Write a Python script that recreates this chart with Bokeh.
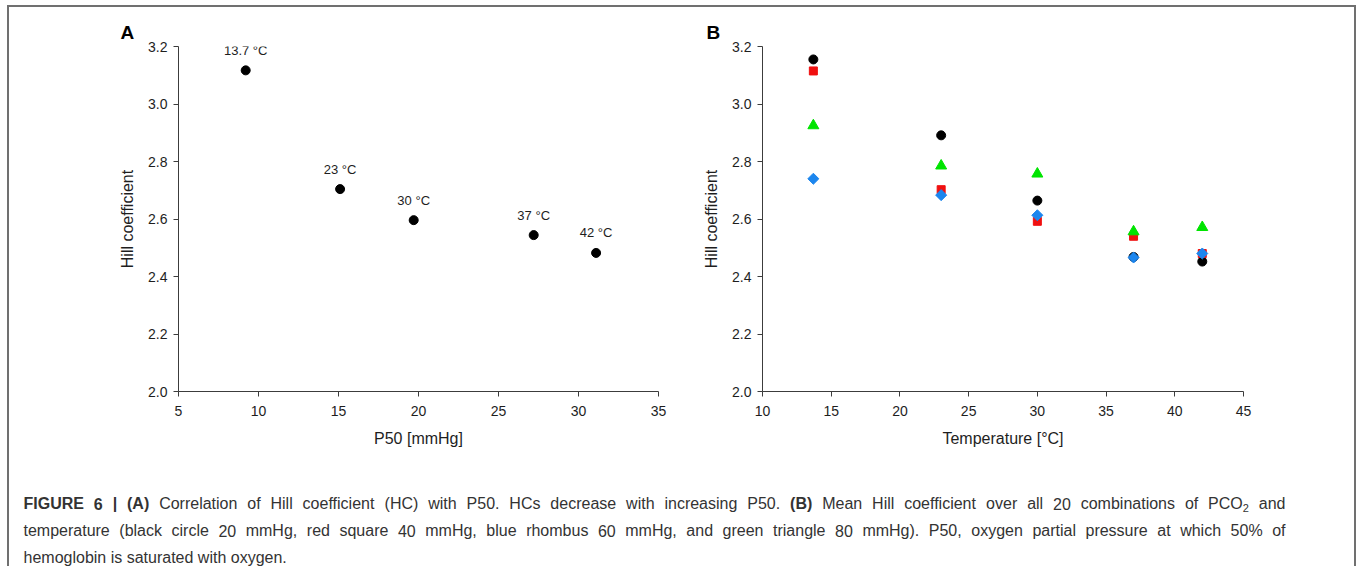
from bokeh.plotting import figure
from bokeh.models import Range1d, FixedTicker, LabelSet, ColumnDataSource, Title, Spacer
from bokeh.layouts import column, row
from bokeh.embed import file_html
from bokeh.resources import INLINE
from bokeh.core.properties import value
import math

# ---------------- data ----------------
# Panel A: Hill coefficient vs P50
p50_mmhg = [9.2, 15.1, 19.7, 27.2, 31.1]
hill_a = [3.117, 2.704, 2.596, 2.544, 2.482]
temp_labels = ["13.7 °C", "23 °C", "30 °C", "37 °C", "42 °C"]

# Panel B: Hill coefficient vs temperature, per PCO2
temperature_c = [13.7, 23, 30, 37, 42]
hill_pco2_20 = [3.155, 2.891, 2.664, 2.468, 2.452]   # black circle
hill_pco2_40 = [3.115, 2.702, 2.592, 2.540, 2.480]   # red square
hill_pco2_60 = [2.740, 2.683, 2.613, 2.466, 2.480]   # blue rhombus
hill_pco2_80 = [2.925, 2.785, 2.757, 2.556, 2.571]   # green triangle

a_x_ticks = [5, 10, 15, 20, 25, 30, 35]
b_x_ticks = [10, 15, 20, 25, 30, 35, 40, 45]
y_ticks = [2.0, 2.2, 2.4, 2.6, 2.8, 3.0, 3.2]
y_tick_labels = ["2.0", "2.2", "2.4", "2.6", "2.8", "3.0", "3.2"]

# caption: each word is a list of (text, kind) parts; kind: normal / bold / sub
caption_line1 = ([[(w, "bold")] for w in "FIGURE 6 | (A)".split()]
                 + [[(w, "normal")] for w in "Correlation of Hill coefficient (HC) with P50. HCs decrease with increasing P50.".split()]
                 + [[("(B)", "bold")]]
                 + [[(w, "normal")] for w in "Mean Hill coefficient over all 20 combinations of".split()]
                 + [[("PCO", "normal"), ("2", "sub")], [("and", "normal")]])
caption_line2 = "temperature (black circle 20 mmHg, red square 40 mmHg, blue rhombus 60 mmHg, and green triangle 80 mmHg). P50, oxygen partial pressure at which 50% of"
caption_line3 = "hemoglobin is saturated with oxygen."

FONT = "Liberation Sans"
AXIS_COL = "#3c3c3c"
TEXT_COL = "#1e1e1e"

# ---------------- helpers ----------------
def style(p):
    p.toolbar_location = None
    p.outline_line_color = None
    p.xgrid.visible = False
    p.ygrid.visible = False
    p.background_fill_color = "white"
    p.border_fill_color = "white"
    for ax in (p.xaxis[0], p.yaxis[0]):
        ax.axis_line_color = AXIS_COL
        ax.axis_line_width = 1
        ax.major_tick_line_color = AXIS_COL
        ax.major_tick_out = 5
        ax.major_tick_in = 0
        ax.minor_tick_line_color = None
        ax.major_label_text_font = FONT
        ax.major_label_text_font_size = "14px"
        ax.major_label_text_color = TEXT_COL
        ax.axis_label_text_font = FONT
        ax.axis_label_text_font_size = "16px"
        ax.axis_label_text_font_style = "normal"
        ax.axis_label_text_color = TEXT_COL
    p.yaxis[0].ticker = FixedTicker(ticks=y_ticks)
    p.yaxis[0].major_label_overrides = {t: l for t, l in zip(y_ticks, y_tick_labels)}
    p.yaxis[0].major_label_standoff = 6
    p.yaxis[0].axis_label_standoff = 9
    p.xaxis[0].major_label_standoff = 9
    p.xaxis[0].axis_label_standoff = 11


def panel_letter(p, letter, offset):
    p.add_layout(Title(text=letter, align="left", offset=offset, standoff=7,
                       text_font=FONT, text_font_size="19px", text_font_style="bold",
                       text_color="black"), "above")


PANEL_H = 453
TOP = 39
BOTTOM = PANEL_H - TOP - 345

# ---------------- panel A ----------------
pA = figure(frame_width=480, frame_height=345,
            min_border_left=169, min_border_right=36, min_border_top=TOP, min_border_bottom=BOTTOM,
            x_range=Range1d(5, 35), y_range=Range1d(2.0, 3.2),
            output_backend="svg", toolbar_location=None,
            x_axis_label="P50 [mmHg]", y_axis_label="Hill coefficient")
style(pA)
pA.xaxis[0].ticker = FixedTicker(ticks=a_x_ticks)

srcA = ColumnDataSource(dict(x=p50_mmhg, y=hill_a, lab=temp_labels))
pA.scatter("x", "y", source=srcA, marker="circle", size=9,
           fill_color="black", line_color="black")
pA.add_layout(LabelSet(x="x", y="y", text="lab", source=srcA,
                       text_align="center", text_baseline="middle", y_offset=20,
                       text_font=value(FONT), text_font_size="13px", text_color=TEXT_COL))
panel_letter(pA, "A", -58)

# ---------------- panel B ----------------
pB = figure(frame_width=481, frame_height=345,
            min_border_left=68, min_border_right=111, min_border_top=TOP, min_border_bottom=BOTTOM,
            x_range=Range1d(10, 45), y_range=Range1d(2.0, 3.2),
            output_backend="svg", toolbar_location=None,
            x_axis_label="Temperature [°C]", y_axis_label="Hill coefficient")
style(pB)
pB.xaxis[0].ticker = FixedTicker(ticks=b_x_ticks)

pB.scatter(temperature_c, hill_pco2_20, marker="circle", size=9,
           fill_color="black", line_color="black")
pB.scatter(temperature_c, hill_pco2_40, marker="square", size=8,
           fill_color="#f01010", line_color="#f01010")
pB.scatter(temperature_c, hill_pco2_60, marker="square", size=7.8, angle=math.pi / 4,
           fill_color="#1c86ee", line_color="#1c86ee")
pB.scatter(temperature_c, hill_pco2_80, marker="triangle", size=11,
           fill_color="#00e400", line_color="#00e400")
panel_letter(pB, "B", -56)

# ---------------- caption ----------------
REG = {' ': 278, '(': 333, ')': 333, ',': 278, '.': 278, '%': 889, '|': 260,
       '[': 278, ']': 278, '°': 400, '-': 333, ':': 278}
for ch in "0123456789":
    REG[ch] = 556
for ch, w in zip("ABCDEFGHIJKLMNOPQRSTUVWXYZ",
                 [667, 667, 722, 722, 667, 611, 778, 722, 278, 500, 667, 556, 833, 722,
                  778, 667, 778, 722, 667, 611, 722, 667, 944, 667, 667, 611]):
    REG[ch] = w
for ch, w in zip("abcdefghijklmnopqrstuvwxyz",
                 [556, 556, 500, 556, 556, 278, 556, 556, 222, 222, 500, 222, 833, 556,
                  556, 556, 556, 333, 500, 278, 556, 500, 722, 500, 500, 500]):
    REG[ch] = w
BOLD = dict(REG)
BOLD.update({'|': 280, ' ': 278})
for ch, w in zip("ABCDEFGHIJKLMNOPQRSTUVWXYZ",
                 [722, 722, 722, 722, 667, 611, 778, 722, 278, 556, 722, 611, 833, 722,
                  778, 667, 778, 722, 667, 611, 722, 667, 944, 667, 667, 611]):
    BOLD[ch] = w

CAP_SIZE = 16.0
SUB_SIZE = 11.0
SIZES = {"normal": CAP_SIZE, "bold": CAP_SIZE, "sub": SUB_SIZE}


def tw(s, kind):
    table = BOLD if kind == "bold" else REG
    return sum(table.get(c, 556) for c in s) * SIZES[kind] / 1000.0


CAP_W, CAP_H = 1345, 106
pC = figure(width=CAP_W, height=CAP_H, min_border=0,
            x_range=Range1d(0, CAP_W), y_range=Range1d(CAP_H, 0),
            x_axis_type=None, y_axis_type=None,
            output_backend="svg", toolbar_location=None)
pC.outline_line_color = None
pC.background_fill_color = "white"
pC.border_fill_color = "white"

X0 = 14
X_RIGHT = 1276
BASE = [43, 70, 97]
CAP_COL = "#333333"


def draw_justified(words, base):
    widths = [sum(tw(t, k) for t, k in w) for w in words]
    gap = (X_RIGHT - X0 - sum(widths)) / (len(words) - 1)
    cols = {k: dict(x=[], y=[], t=[]) for k in SIZES}
    x = X0
    for w, wd in zip(words, widths):
        xx = x
        for t, k in w:
            cols[k]["x"].append(xx)
            cols[k]["y"].append(base + (4 if k == "sub" else 0))
            cols[k]["t"].append(t)
            xx += tw(t, k)
        x += wd + gap
    for k, c in cols.items():
        if c["t"]:
            pC.text(c["x"], c["y"], text=c["t"], text_font=value(FONT),
                    text_font_size=f"{SIZES[k]}px", text_color=CAP_COL,
                    text_font_style="bold" if k == "bold" else "normal",
                    text_baseline="alphabetic", text_align="left")


draw_justified(caption_line1, BASE[0])
draw_justified([[(w, "normal")] for w in caption_line2.split()], BASE[1])
pC.text([X0], [BASE[2]], text=[caption_line3], text_font=value(FONT),
        text_font_size=f"{CAP_SIZE}px", text_color=CAP_COL,
        text_baseline="alphabetic", text_align="left")

BORDER = "2px solid #707070"
inner = column(row(pA, pB, spacing=0), pC, spacing=0,
               styles={"border-top": BORDER, "border-left": BORDER, "border-right": BORDER})
layout = column(Spacer(width=10, height=5), row(Spacer(width=7, height=10), inner, spacing=0), spacing=0)

open("out.html", "w").write(file_html(layout, INLINE))
